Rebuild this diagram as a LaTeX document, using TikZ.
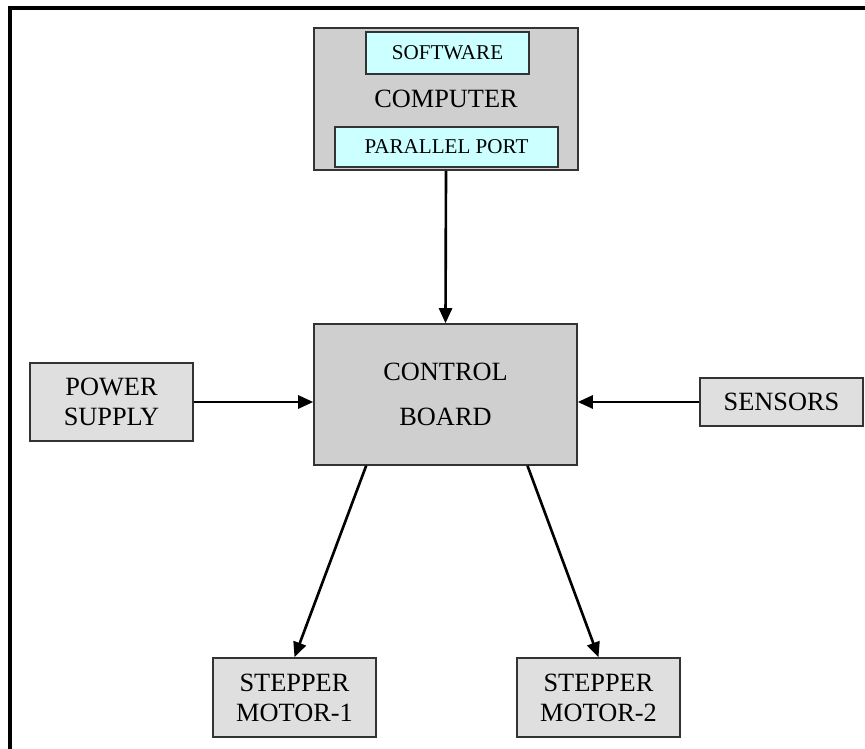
\documentclass[tikz,border=0pt]{standalone}
\usepackage{fontspec}
\setmainfont{Liberation Serif}
\usetikzlibrary{arrows.meta,calc}

\definecolor{boardgray}{HTML}{CFCFCF}
\definecolor{unitgray}{HTML}{DFDFDF}
\definecolor{portcyan}{HTML}{CCFFFF}
\definecolor{edgegray}{HTML}{333333}

\begin{document}
\begin{tikzpicture}[x=0.02cm,y=-0.02cm,font=\fontsize{15}{17}\selectfont,
  block/.style={draw=edgegray,line width=0.9pt,fill=#1,align=center,inner sep=0pt},
  small block/.style={block=portcyan,font=\fontsize{12}{14}\selectfont},
  flow/.style={line width=1.5pt,-{Triangle[length=0.3cm,width=0.26cm]}}]

\useasboundingbox (0,0) rectangle (865,749);
\draw[line width=1.8pt] (865,8) -- (10,8) -- (10,749);

% computer with its two parts
\node[block=boardgray,minimum width=5.28cm,minimum height=2.84cm] (comp) at (446,99) {COMPUTER};
\node[small block,minimum width=3.26cm,minimum height=0.84cm] (soft) at (447.5,53) {SOFTWARE};
\node[small block,minimum width=4.46cm,minimum height=0.8cm] (port) at (446.5,147) {PARALLEL PORT};

\node[block=boardgray,minimum width=5.26cm,minimum height=2.82cm] (ctrl) at (445.5,394.5) {CONTROL\\[9pt]BOARD};

\node[block=unitgray,minimum width=3.26cm,minimum height=1.56cm] (power) at (111.5,402) {POWER\\SUPPLY};
\node[block=unitgray,minimum width=3.26cm,minimum height=0.96cm] (sens) at (781.5,402) {SENSORS};

\foreach \name/\x/\y in {m1/294.5/1,m2/598.5/2}{%
\node[block=unitgray,minimum width=3.26cm,minimum height=1.58cm] (\name) at (\x,697.5) {STEPPER\\MOTOR-\y};
}

\draw[flow] (comp.south) -- (ctrl.north);
\draw[flow] (power.east) -- (power.east -| ctrl.west);
\draw[flow] (sens.west) -- (sens.west -| ctrl.east);
\draw[flow] ($(ctrl.south west)!0.2!(ctrl.south east)$) -- (m1.north);
\draw[flow] ($(ctrl.south west)!0.81!(ctrl.south east)$) -- (m2.north);

\end{tikzpicture}
\end{document}
